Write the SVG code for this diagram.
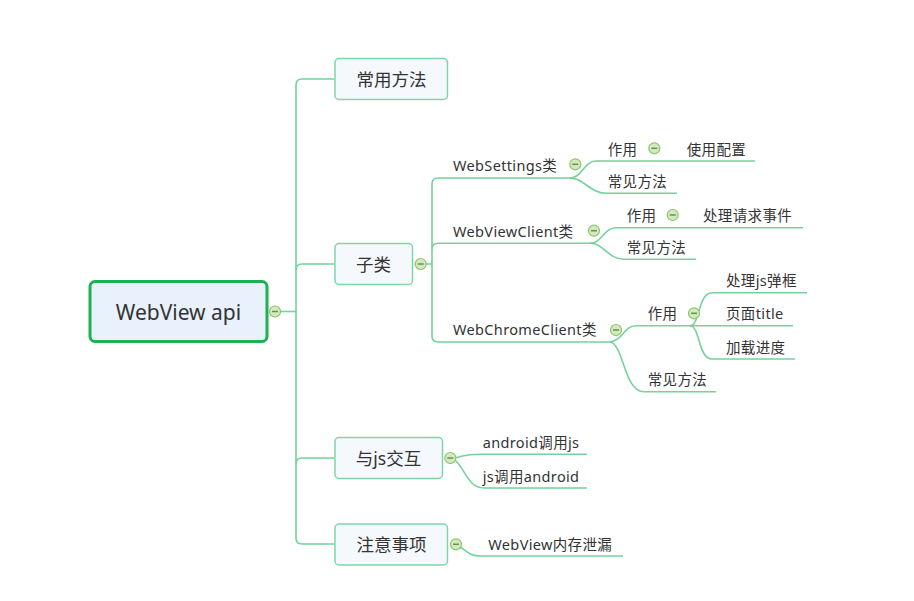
<svg xmlns="http://www.w3.org/2000/svg" width="914" height="601" viewBox="0 0 914 601">
<style>
text{font-family:"Noto Sans","Noto Sans CJK SC",sans-serif;fill:#333}
.t1{font-size:17.5px;text-anchor:middle;dominant-baseline:central}
.t2{font-size:14.5px;letter-spacing:0.35px}
.box{fill:#f5f8fc;stroke:#7dd7a5;stroke-width:1.5}
.ln{fill:none;stroke:#74d29c;stroke-width:1.6}
.cc{fill:#d3eabf;stroke:#8cc46a;stroke-width:1.2}
.mn{stroke:#6e8a60;stroke-width:1.5}
</style>
<defs>
<g id="col"><circle class="cc" r="5.5"/><line class="mn" x1="-3" y1="0" x2="3" y2="0"/></g>
</defs>
<rect width="914" height="601" fill="#fff"/>
<g id="connectors">
<path class="ln" d="M280 311.5 H296"/>
<path class="ln" d="M334 79 H302 Q296 79 296 85 V538 Q296 544 302 544 H334"/>
<path class="ln" d="M296 270 Q296 264 302 264 H334"/>
<path class="ln" d="M296 464 Q296 458 302 458 H334"/>
<path class="ln" d="M426 264 H432"/>
<path class="ln" d="M572 178 H438 Q432 178 432 184 V336 Q432 342 438 342 H612"/>
<path class="ln" d="M432 249 Q432 243.3 438 243.3 H592"/>
<path class="ln" d="M570 178 C582 178 584 161 596 161 H755"/>
<path class="ln" d="M570 178 C584 178 590 193.3 606 193.3 H677"/>
<path class="ln" d="M590 243.3 C602 243.3 604 227.7 616 227.7 H803"/>
<path class="ln" d="M590 243.3 C604 243.3 608 259.3 624 259.3 H696"/>
<path class="ln" d="M610 341.7 C622 341.7 624 325.7 636 325.7 H793"/>
<path class="ln" d="M610 341.7 C624 345 624 391.7 644 391.7 H716"/>
<path class="ln" d="M690 325.7 C700 325.7 698 292.7 712 292.7 H807"/>
<path class="ln" d="M690 325.7 C700 325.7 698 359 712 359 H795"/>
<path class="ln" d="M455 458 C466 455 470 454.3 482 454.3 H587"/>
<path class="ln" d="M455 460 C466 470 468 488 484 488 H587"/>
<path class="ln" d="M460 547 C468 552 470 556 480 556 H623"/>
</g>
<g id="root">
<rect x="90" y="281.5" width="177" height="60" rx="5" fill="#e9f2fc" stroke="#1db154" stroke-width="3"/>
<text x="178.5" y="311.5" style="font-size:21px;text-anchor:middle;dominant-baseline:central">WebView api</text>
<use href="#col" x="275" y="311.5"/>
</g>
<g id="n-changyong"><rect class="box" x="335" y="58.5" width="112.5" height="41" rx="4"/><text class="t1" x="391.5" y="79">常用方法</text></g>
<g id="n-zilei"><rect class="box" x="335" y="243.5" width="77.5" height="41" rx="4"/><text class="t1" x="373.5" y="264">子类</text><use href="#col" x="420.7" y="264"/></g>
<g id="n-js"><rect class="box" x="335" y="437.5" width="107.5" height="41" rx="4"/><text class="t1" x="388.5" y="458">与js交互</text><use href="#col" x="450.3" y="458"/></g>
<g id="n-zhuyi"><rect class="box" x="335" y="524" width="112.5" height="41" rx="4"/><text class="t1" x="391.5" y="544">注意事项</text><use href="#col" x="456" y="544.3"/></g>
<g id="n-websettings"><text class="t2" x="453" y="170.5">WebSettings类</text><use href="#col" x="575.3" y="164.3"/></g>
<g id="n-ws-zuoyong"><text class="t2" x="607.7" y="155">作用</text><use href="#col" x="654.3" y="148.3"/></g>
<g id="n-ws-peizhi"><text class="t2" x="686.7" y="155">使用配置</text></g>
<g id="n-ws-fangfa"><text class="t2" x="607.7" y="187">常见方法</text></g>
<g id="n-webviewclient"><text class="t2" x="453" y="236.5">WebViewClient类</text><use href="#col" x="594" y="230.7"/></g>
<g id="n-wvc-zuoyong"><text class="t2" x="626.7" y="221">作用</text><use href="#col" x="672.7" y="215"/></g>
<g id="n-wvc-qingqiu"><text class="t2" x="703" y="221">处理请求事件</text></g>
<g id="n-wvc-fangfa"><text class="t2" x="626.7" y="253">常见方法</text></g>
<g id="n-webchrome"><text class="t2" x="453" y="335">WebChromeClient类</text><use href="#col" x="616" y="330"/></g>
<g id="n-wcc-zuoyong"><text class="t2" x="647.7" y="319">作用</text><use href="#col" x="694" y="313.3"/></g>
<g id="n-wcc-tankuang"><text class="t2" x="726" y="286">处理js弹框</text></g>
<g id="n-wcc-title"><text class="t2" x="726" y="319">页面title</text></g>
<g id="n-wcc-jindu"><text class="t2" x="726" y="352.5">加载进度</text></g>
<g id="n-wcc-fangfa"><text class="t2" x="647.7" y="385">常见方法</text></g>
<g id="n-android-js"><text class="t2" x="482.7" y="447.5">android调用js</text></g>
<g id="n-js-android"><text class="t2" x="482.7" y="481.5">js调用android</text></g>
<g id="n-leak"><text class="t2" x="488.3" y="549.5">WebView内存泄漏</text></g>
</svg>
